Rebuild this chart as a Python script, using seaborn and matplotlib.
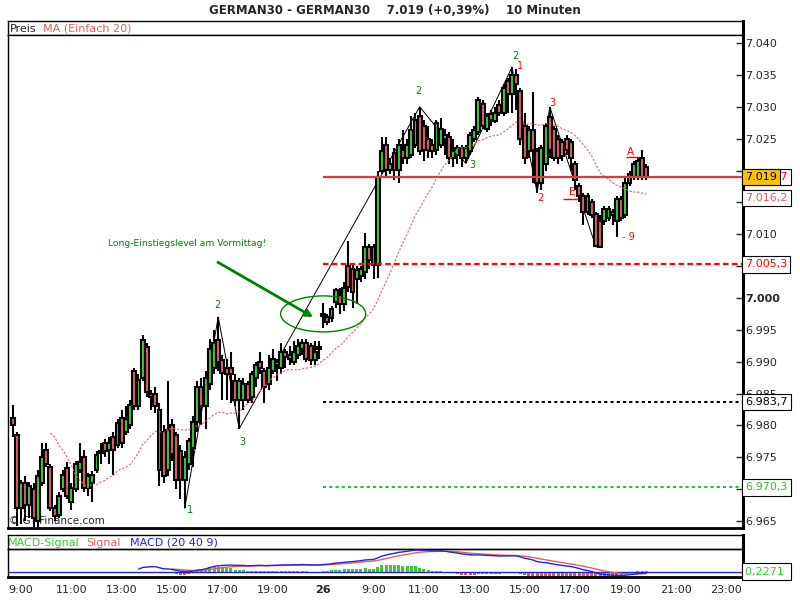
import numpy as np
import pandas as pd
import matplotlib
matplotlib.use('Agg')
import matplotlib.pyplot as plt
import seaborn as sns
from matplotlib.patches import Ellipse
from matplotlib.ticker import FuncFormatter

# ---- candles, day 1 (25th) from 8:40, 10 minute bars
day1_open = [6981.2, 6978.5, 6967.0, 6971.0, 6967.5, 6970.0, 6965.0, 6971.0, 6976.2, 6973.5,
             6967.0, 6966.0, 6970.0, 6973.3, 6968.0, 6970.0, 6973.0, 6975.0, 6970.2, 6971.0,
             6973.0, 6975.6, 6977.2, 6976.2, 6978.2, 6977.0, 6981.1, 6979.0, 6980.0, 6988.5,
             6983.0, 6987.5, 6992.3, 6985.0, 6985.0, 6982.4, 6979.0, 6973.0, 6980.0, 6978.5,
             6976.0, 6971.5, 6974.0, 6976.5, 6980.5, 6986.0, 6983.0, 6986.5, 6989.0, 6993.4,
             6990.3, 6989.0, 6989.0, 6987.0, 6984.0, 6984.0, 6986.5, 6984.5, 6987.5, 6990.0,
             6988.5, 6986.5, 6988.5, 6989.5, 6989.0, 6991.5, 6991.0, 6990.0, 6991.0, 6992.0,
             6993.0, 6992.5, 6990.3, 6992.0]
day1_high = [6983.2, 6979.0, 6971.5, 6972.0, 6971.2, 6971.0, 6973.0, 6977.2, 6977.2, 6974.0,
             6967.5, 6969.5, 6973.0, 6974.2, 6971.0, 6974.5, 6977.2, 6976.2, 6972.5, 6972.8,
             6976.0, 6977.2, 6977.8, 6978.2, 6979.0, 6981.0, 6982.5, 6983.0, 6984.0, 6989.0,
             6988.0, 6994.2, 6993.0, 6985.5, 6986.0, 6983.5, 6980.0, 6987.0, 6981.0, 6979.0,
             6977.0, 6976.0, 6978.0, 6981.5, 6987.0, 6987.5, 6988.5, 6993.5, 6995.0, 6997.0,
             6991.0, 6990.5, 6991.5, 6988.0, 6987.5, 6987.5, 6987.0, 6988.5, 6990.0, 6991.5,
             6989.0, 6991.0, 6992.0, 6990.5, 6993.0, 6992.0, 6992.5, 6993.2, 6993.5, 6993.5,
             6993.5, 6993.0, 6993.3, 6993.3]
day1_low = [6978.2, 6964.2, 6964.5, 6965.0, 6965.5, 6964.0, 6964.0, 6970.5, 6973.5, 6966.5,
            6965.0, 6965.5, 6969.5, 6968.5, 6966.8, 6969.5, 6972.5, 6969.5, 6969.0, 6968.0,
            6972.5, 6974.0, 6975.0, 6974.0, 6972.2, 6976.5, 6976.5, 6978.5, 6979.5, 6982.5,
            6982.5, 6987.0, 6984.5, 6982.5, 6982.0, 6970.5, 6971.0, 6972.0, 6974.5, 6970.0,
            6968.5, 6967.0, 6973.0, 6973.5, 6979.0, 6980.0, 6979.5, 6985.5, 6988.0, 6988.5,
            6984.0, 6984.0, 6983.5, 6983.0, 6979.5, 6982.5, 6983.5, 6983.5, 6986.0, 6988.0,
            6983.5, 6985.5, 6988.0, 6987.0, 6988.0, 6989.0, 6989.5, 6989.5, 6990.5, 6991.0,
            6990.0, 6989.5, 6989.5, 6990.5]
day1_close = [6980.1, 6967.0, 6971.0, 6967.5, 6970.5, 6965.5, 6972.0, 6975.0, 6974.0, 6967.0,
              6965.8, 6969.0, 6972.2, 6969.0, 6970.2, 6974.0, 6974.3, 6970.2, 6972.0, 6972.2,
              6975.4, 6975.8, 6976.0, 6977.2, 6976.2, 6980.4, 6977.2, 6981.0, 6983.2, 6983.0,
              6987.2, 6993.4, 6985.2, 6984.5, 6983.0, 6973.0, 6972.0, 6979.3, 6975.5, 6971.5,
              6971.5, 6975.0, 6977.5, 6980.5, 6986.0, 6983.0, 6987.5, 6992.0, 6993.0, 6990.0,
              6988.2, 6988.0, 6988.0, 6984.0, 6987.0, 6986.5, 6984.0, 6988.0, 6989.5, 6989.0,
              6986.0, 6989.0, 6990.5, 6990.0, 6991.5, 6990.8, 6990.5, 6991.5, 6992.5, 6993.0,
              6990.5, 6990.3, 6991.5, 6992.2]

# ---- candles, day 2 (26th) from 7:00
day2_open = [6997.2, 6997.0, 6996.8, 6999.4, 7000.5, 6999.0, 7005.0, 7004.5, 7003.0, 7003.5,
             7004.1, 7008.0, 7008.0, 7005.2, 7020.0, 7024.0, 7020.1, 7022.8, 7020.1, 7023.2,
             7022.0, 7022.5, 7024.0, 7028.5, 7027.0, 7025.0, 7024.0, 7023.2, 7024.0, 7025.0,
             7025.3, 7022.0, 7022.5, 7023.5, 7022.0, 7023.0, 7025.0, 7026.0, 7030.5, 7026.5,
             7028.0, 7027.8, 7030.2, 7029.0, 7034.0, 7032.0, 7035.0, 7032.5, 7027.0, 7023.0,
             7026.4, 7023.0, 7018.0, 7021.0, 7028.4, 7026.5, 7025.0, 7024.5, 7025.0, 7024.5,
             7021.0, 7017.5, 7016.0, 7013.5, 7015.0, 7013.2, 7012.0, 7012.0, 7012.5, 7013.0,
             7012.0, 7015.5, 7013.0, 7018.0, 7019.0, 7019.0, 7022.0, 7020.5]
day2_high = [6999.2, 6997.5, 6998.8, 7001.5, 7001.5, 7002.5, 7009.0, 7005.5, 7005.0, 7005.0,
             7010.2, 7008.5, 7008.5, 7020.0, 7025.3, 7025.3, 7022.0, 7023.5, 7025.0, 7026.4,
             7025.0, 7028.5, 7029.0, 7030.0, 7028.0, 7027.0, 7025.0, 7028.0, 7028.3, 7026.5,
             7026.0, 7025.0, 7024.0, 7024.0, 7024.0, 7026.0, 7027.0, 7031.5, 7031.0, 7029.0,
             7029.5, 7030.0, 7031.0, 7033.5, 7034.5, 7036.2, 7036.0, 7033.0, 7029.0, 7027.0,
             7032.3, 7023.5, 7024.0, 7027.5, 7030.0, 7027.0, 7025.5, 7025.0, 7025.5, 7025.0,
             7021.5, 7018.0, 7016.5, 7016.5, 7015.5, 7013.5, 7013.0, 7014.5, 7014.5, 7014.0,
             7016.0, 7016.0, 7019.0, 7020.0, 7021.5, 7022.0, 7023.2, 7021.0]
day2_low = [6995.3, 6995.8, 6996.2, 6998.5, 6997.5, 6998.0, 7001.0, 6998.5, 6999.0, 7002.5,
            7003.0, 7004.5, 7003.0, 7003.1, 7019.5, 7018.8, 7019.5, 7018.5, 7018.0, 7021.0,
            7021.0, 7022.0, 7023.5, 7022.5, 7021.5, 7022.0, 7022.0, 7022.5, 7023.5, 7022.5,
            7021.0, 7020.5, 7021.0, 7020.5, 7021.1, 7022.5, 7024.5, 7025.5, 7026.5, 7026.0,
            7027.0, 7027.5, 7028.5, 7028.5, 7029.0, 7029.0, 7029.5, 7024.0, 7021.0, 7022.0,
            7018.0, 7016.5, 7017.0, 7020.0, 7022.0, 7021.5, 7021.0, 7021.5, 7022.5, 7020.0,
            7017.0, 7015.0, 7011.5, 7013.0, 7012.5, 7008.0, 7008.0, 7011.5, 7012.0, 7011.5,
            7009.5, 7012.0, 7012.5, 7017.5, 7018.5, 7018.5, 7018.5, 7018.5]
day2_close = [6997.3, 6996.2, 6998.2, 7001.2, 6999.0, 7001.5, 7001.7, 7001.0, 7004.4, 7004.5,
              7008.0, 7006.0, 7005.2, 7019.0, 7023.0, 7020.1, 7021.0, 7020.1, 7024.0, 7022.0,
              7024.0, 7026.4, 7028.0, 7023.0, 7023.2, 7023.2, 7023.0, 7027.5, 7026.5, 7025.5,
              7022.0, 7023.0, 7023.5, 7022.0, 7023.5, 7025.5, 7026.4, 7031.0, 7027.0, 7028.5,
              7028.8, 7029.0, 7029.0, 7033.0, 7032.0, 7035.0, 7033.5, 7025.0, 7022.0, 7026.4,
              7023.2, 7018.0, 7023.5, 7027.0, 7023.2, 7022.0, 7022.0, 7022.2, 7023.2, 7022.0,
              7018.5, 7016.0, 7013.5, 7016.0, 7013.0, 7008.2, 7008.0, 7014.0, 7014.0, 7013.5,
              7015.5, 7012.5, 7018.0, 7019.5, 7021.0, 7021.5, 7019.0, 7019.0]

# MA(20) values read for the first bars (older bars are outside the window)
ma_head = [6978.8, 6978.2, 6976.9, 6976.1, 6975.0, 6973.8, 6972.2, 6971.4, 6970.8, 6970.2]
ma_head_start = 9

# horizontal levels and right-edge value labels
level_last = 7019.0
level_red = 7005.3
level_black = 6983.7
level_green = 6970.3
ma_last_label = 7016.2
macd_diff_label = '0,2271'

# x axis (hours; day 2 shifted by 14h so 7:00 on the 26th follows 21:00)
tick_pos = [9, 11, 13, 15, 17, 19, 21, 23, 25, 27, 29, 31, 33, 35, 37]
tick_lab = ['9:00', '11:00', '13:00', '15:00', '17:00', '19:00', '26',
            '9:00', '11:00', '13:00', '15:00', '17:00', '19:00', '21:00', '23:00']
price_ticks = list(range(6965, 7041, 5))

GREEN = '#44c844'
RED = '#dc6464'
MA_COL = '#e06060'

n1 = len(day1_close)
t = np.concatenate([8 + 40 / 60 + np.arange(n1) / 6, 21 + np.arange(len(day2_close)) / 6])
o = np.array(day1_open + day2_open)
hi = np.array(day1_high + day2_high)
lo = np.array(day1_low + day2_low)
c = np.array(day1_close + day2_close)

close = pd.Series(c)
ma = close.rolling(20).mean()
ma.iloc[ma_head_start:ma_head_start + len(ma_head)] = ma_head
ema_f = close.ewm(span=20, adjust=False).mean()
ema_s = close.ewm(span=40, adjust=False).mean()
macd = ema_f - ema_s
signal = macd.ewm(span=9, adjust=False).mean()
hist = macd - signal
macd[:30] = np.nan
signal[:38] = np.nan
hist[:38] = np.nan

df = pd.DataFrame({'t': t, 'ma': ma, 'macd': macd, 'signal': signal, 'hist': hist})

sns.set_style('white')
plt.rcParams['font.family'] = ['DejaVu Sans']

W, H = 800, 600
fig = plt.figure(figsize=(8, 6), dpi=100)


def rect(l, top, w, h):
    return [l / W, 1 - (top + h) / H, w / W, h / H]


def de_num(v):
    # 7005.3 -> '7.005,3'
    s = f'{v:.1f}'
    return s[0] + '.' + s[1:4] + ',' + s[-1]


XL = (8.484, 37.674)
ax_head = fig.add_axes(rect(8, 21, 735, 14))
ax = fig.add_axes(rect(8, 35, 735, 493))
ax_mh = fig.add_axes(rect(8, 535, 735, 14))
ax_m = fig.add_axes(rect(8, 549, 735, 28))

for a in (ax_head, ax, ax_mh, ax_m):
    a.set_xlim(*XL)
    for s in a.spines.values():
        s.set_color('black')
        s.set_linewidth(1)
    a.spines['right'].set_linewidth(2.2)
    a.set_xticks([])
    a.set_yticks([])
ax.spines['bottom'].set_linewidth(2)
ax_m.spines['bottom'].set_linewidth(2)

ax_head.text(0.003, 0.45, 'Preis', transform=ax_head.transAxes, fontsize=8, va='center')
ax_head.text(0.047, 0.45, 'MA (Einfach 20)', transform=ax_head.transAxes, fontsize=8,
             va='center', color=MA_COL)

# ---- main price panel
ax.set_ylim(6963.91, 7041.26)
ax.text(8.52, 6965.0, '© GT-Finance.com', fontsize=7.5, va='center', zorder=0)

# zigzag helper lines
zig_green = [(41, 'L'), (49, 'H'), (54, 'L'), (n1 + 23, 'H'), (n1 + 34, 'L'), (n1 + 45, 'H')]
zig_red = [(n1 + 45, 'H'), (n1 + 51, 'L'), (n1 + 54, 'H'), (n1 + 65, 'L')]
for path in (zig_green, zig_red):
    xs = [t[i] for i, k in path]
    ys = [hi[i] if k == 'H' else lo[i] for i, k in path]
    ax.plot(xs, ys, color='black', lw=0.7, zorder=1)

up = c >= o
ax.vlines(t, lo, hi, color='black', lw=1.5, zorder=2)
body_lo = np.minimum(o, c)
body_h = np.maximum(np.abs(c - o), 0.35)
ax.bar(t, body_h, bottom=body_lo, width=0.155, color=np.where(up, GREEN, RED),
       edgecolor='black', linewidth=1.5, zorder=3)

sns.lineplot(data=df, x='t', y='ma', ax=ax, color=MA_COL, lw=0.8, linestyle=(0, (2, 1.5)),
             zorder=4, legend=False)

ax.hlines(level_last, 21.0, XL[1], color='#e23a3a', lw=1.6, zorder=5)
ax.hlines(level_red, 21.0, XL[1], color='#ff0000', lw=1.6, linestyles=(0, (2.5, 1.5)), zorder=5)
ax.hlines(level_black, 21.0, XL[1], color='black', lw=1.5, linestyles=(0, (1.5, 1.5)), zorder=5)
ax.hlines(level_green, 21.0, XL[1], color='#33bb33', lw=1.5, linestyles=(0, (1.5, 1.5)), zorder=5)

# wave labels: bar, side, text, colour, offset px
wave_labels = [(41, 'L', '1', '#008000', 5, -2), (49, 'H', '2', '#008000', -1, 12),
               (54, 'L', '3', '#008000', 3, -13), (n1 + 23, 'H', '2', '#008000', -1, 16),
               (n1 + 34, 'L', '3', '#008000', 7, -2), (n1 + 45, 'H', '2', '#008000', 3, 11),
               (n1 + 45, 'H', '1', '#ff0000', 8, 1), (n1 + 54, 'H', '3', '#ff0000', 3, 4),
               (n1 + 51, 'L', '2', '#ff0000', 3, -5)]
for i, k, s, col, dx, dy in wave_labels:
    y = hi[i] if k == 'H' else lo[i]
    ax.annotate(s, (t[i], y), xytext=(dx * 0.72, dy * 0.72), textcoords='offset points',
                ha='center', va='center', color=col, fontsize=7, zorder=6)

ax.text(30.88, 7016.6, 'E', color='#ff0000', fontsize=7.5, ha='center', va='center', zorder=6)
ax.hlines(7015.5, 30.52, 31.12, color='#ff0000', lw=1, zorder=6)
ax.text(33.19, 7022.9, 'A', color='#ff0000', fontsize=7.5, ha='center', va='center', zorder=6)
ax.hlines(7022.1, 33.03, 33.55, color='#ff0000', lw=1, zorder=6)
ax.text(33.13, 7009.6, '- 9', color='#ff0000', fontsize=7, ha='center', va='center', zorder=6)

# note with arrow and ellipse
ax.text(12.455, 7008.5, 'Long-Einstiegslevel am Vormittag!', color='#008000', fontsize=6.6,
        va='center', ha='left', zorder=6)
ax.annotate('', xy=(20.6, 6997.0), xytext=(16.82, 7005.6),
            arrowprops=dict(arrowstyle='-|>', color='#008000', lw=2, mutation_scale=11,
                            shrinkA=0, shrinkB=0), zorder=6)
ax.add_patch(Ellipse((21.0, 6997.5), 3.38, 5.65, fill=False, ec='#008000', lw=1, zorder=6))

ax.set_yticks(price_ticks)
# 7.020 sits under the last-price box and is not shown
ax.yaxis.set_major_formatter(FuncFormatter(lambda v, p: '' if v == 7020 else f'{v / 1000:.3f}'))
ax.tick_params(axis='y', left=False, right=True, labelleft=False, labelright=True,
               direction='in', length=5, width=1, pad=1.5, labelsize=8)
for lab in ax.get_yticklabels():
    if lab.get_text() == '7.000':
        lab.set_fontweight('bold')
ax.set_xlabel('')
ax.set_ylabel('')

# value boxes on the right edge
ytr = ax.get_yaxis_transform()
bx = dict(boxstyle='square,pad=0.3', fc='white', ec='black', lw=0.8)
ax.text(1.0025, level_last, '7.019,7', transform=ytr, color='#ff0000', fontsize=8,
        va='center', ha='left', bbox=bx, zorder=7, clip_on=False)
ax.text(1.0025, level_last, '7.019', transform=ytr, color='black', fontsize=8,
        va='center', ha='left', zorder=8, clip_on=False,
        bbox=dict(boxstyle='square,pad=0.3', fc='#ffc000', ec='black', lw=0.8))
ax.text(1.0025, ma_last_label - 0.5, de_num(ma_last_label), transform=ytr, color=MA_COL,
        fontsize=8, va='center', ha='left', bbox=bx, zorder=7, clip_on=False)
for lvl, col in [(level_red, '#ff0000'), (level_black, 'black'), (level_green, '#33bb33')]:
    ax.text(1.0025, lvl, de_num(lvl), transform=ytr, color=col, fontsize=8, va='center',
            ha='left', bbox=bx, zorder=7, clip_on=False)

# ---- MACD panel
ax_mh.text(0.0, 0.45, 'MACD-Signal', transform=ax_mh.transAxes, fontsize=8, va='center',
           color='#33cc33')
ax_mh.text(0.107, 0.45, 'Signal', transform=ax_mh.transAxes, fontsize=8, va='center',
           color=MA_COL)
ax_mh.text(0.166, 0.45, 'MACD (20 40 9)', transform=ax_mh.transAxes, fontsize=8, va='center',
           color='#2424d8')

peak = np.nanmax(macd)
R = peak / 0.775
ax_m.set_ylim(-0.189 * R, 0.811 * R)

# histogram drawn on its own scale (as the chart tool does), zero line shared
ax_h = fig.add_axes(rect(8, 549, 735, 28), sharex=ax_m)
ax_h.set_zorder(ax_m.get_zorder() - 1)
href = np.nanpercentile(np.abs(hist), 85)
Rh = href / (5.5 / 28)
ax_h.set_ylim(-0.189 * Rh, 0.811 * Rh)
hcol = np.where(df['hist'] >= 0, '#3cc83c', '#e05858')
ax_h.bar(df['t'], df['hist'], width=0.12, color=hcol, linewidth=0)
ax_h.axis('off')
ax_m.patch.set_visible(False)

ax_m.axhline(0, color='#2424d8', lw=1, zorder=2)
sns.lineplot(data=df, x='t', y='signal', ax=ax_m, color='#e06060', lw=1, zorder=3, legend=False)
sns.lineplot(data=df, x='t', y='macd', ax=ax_m, color='#2424d8', lw=1, zorder=4, legend=False)
ax_m.set_xlabel('')
ax_m.set_ylabel('')
ax_m.set_yticks([])
ax_m.set_xlim(*XL)
ax_m.set_xticks(tick_pos)
ax_m.set_xticklabels(tick_lab)
ax_m.tick_params(axis='x', length=0, pad=6, labelsize=8)
for lab in ax_m.get_xticklabels():
    if lab.get_text() == '26':
        lab.set_fontweight('bold')
ax_m.text(1.0025, 0, macd_diff_label + ' ', transform=ax_m.get_yaxis_transform(),
          color='#33cc33', fontsize=8, va='center', ha='left', clip_on=False,
          bbox=dict(boxstyle='square,pad=0.3', fc='white', ec='black', lw=0.8))

fig.text(395 / W, 1 - 10 / H, 'GERMAN30 - GERMAN30    7.019 (+0,39%)    10 Minuten',
         ha='center', va='center', fontsize=8.5, fontweight='bold')

fig.savefig('out.png', dpi=100)
